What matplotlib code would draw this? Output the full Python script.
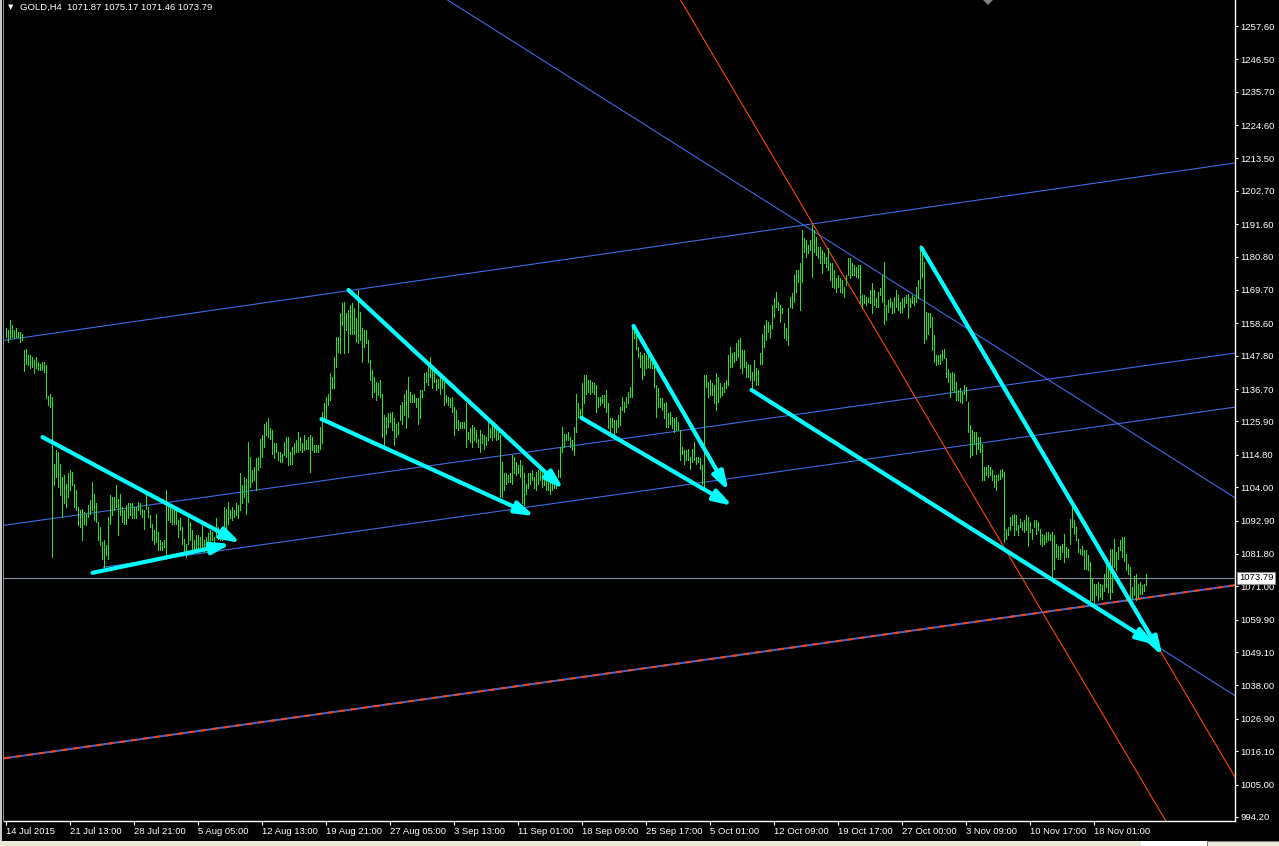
import numpy as np
import matplotlib
matplotlib.use("Agg")
import matplotlib.pyplot as plt
from matplotlib.patches import Rectangle, Polygon
from matplotlib.transforms import blended_transform_factory

# ---------------- data ----------------
symbol_title = "GOLD,H4  1071.87 1075.17 1071.46 1073.79"
last_price = 1073.79

highs = [
    1156.9, 1156.3, 1159.7, 1158.0, 1156.3, 1156.9, 1155.8, 1155.8, 1155.2, 1149.7,
    1150.2, 1148.0, 1148.0, 1147.4, 1146.3, 1147.4, 1145.8, 1145.2, 1145.8, 1145.8,
    1144.7, 1134.3, 1135.2, 1134.1, 1111.9, 1116.3, 1115.8, 1111.9, 1107.4, 1108.0,
    1105.2, 1108.6, 1109.7, 1109.1, 1105.2, 1103.0, 1097.4, 1096.3, 1096.9, 1095.8,
    1095.2, 1098.0, 1099.7, 1105.8, 1101.9, 1098.6, 1092.4, 1090.8, 1085.8, 1086.3,
    1084.7, 1094.1, 1101.3, 1100.8, 1100.8, 1104.7, 1100.2, 1101.9, 1097.4, 1096.3,
    1098.0, 1098.6, 1098.6, 1098.6, 1097.4, 1097.4, 1099.1, 1098.6, 1096.9, 1096.3,
    1101.9, 1097.4, 1094.7, 1091.9, 1089.7, 1095.2, 1089.1, 1086.3, 1085.8, 1086.3,
    1103.0, 1098.6, 1097.4, 1097.4, 1096.3, 1096.3, 1093.0, 1093.6, 1090.8, 1086.9,
    1085.2, 1094.1, 1092.4, 1089.7, 1086.3, 1088.0, 1088.0, 1087.4, 1091.9, 1086.3,
    1087.4, 1088.6, 1089.7, 1089.1, 1087.4, 1093.6, 1090.8, 1089.7, 1089.1, 1097.4,
    1096.9, 1099.1, 1096.3, 1097.4, 1096.3, 1098.6, 1098.0, 1108.6, 1104.7, 1107.4,
    1106.9, 1119.1, 1114.1, 1109.7, 1110.8, 1113.6, 1114.1, 1120.2, 1121.3, 1125.2,
    1125.8, 1126.9, 1123.6, 1123.0, 1118.6, 1118.6, 1115.8, 1115.8, 1115.2, 1119.1,
    1120.8, 1120.8, 1115.8,
    1117.4, 1118.6, 1119.7, 1122.4, 1120.8, 1118.6, 1121.3, 1119.7, 1120.8, 1121.3,
    1120.8, 1118.0, 1118.0, 1118.0, 1124.1, 1129.1, 1131.9, 1134.1, 1135.2, 1141.9,
    1140.8, 1147.4, 1154.1, 1154.1, 1161.9, 1165.2, 1165.8, 1161.9, 1163.0, 1164.7,
    1165.2, 1163.6, 1160.2, 1169.7, 1162.4, 1156.9, 1156.3, 1156.3, 1153.0, 1146.3,
    1143.0, 1140.8, 1139.1, 1138.6, 1139.7, 1135.2, 1128.0, 1127.4, 1128.6, 1128.6,
    1129.1, 1126.9, 1125.2, 1125.8, 1131.3, 1132.4, 1135.2, 1136.3, 1140.8, 1135.8,
    1134.7, 1135.2, 1133.6, 1133.6, 1136.3, 1136.3, 1141.9, 1142.4, 1144.1, 1147.4,
    1143.6, 1143.0, 1140.2, 1140.2, 1141.3, 1140.8, 1139.1, 1134.7, 1134.1, 1133.6,
    1134.1, 1130.8, 1129.7, 1126.3, 1125.8, 1125.8, 1125.8, 1131.9, 1122.4, 1123.6,
    1124.7, 1124.1, 1123.0, 1120.2, 1123.0, 1121.9, 1121.3, 1120.8, 1125.8, 1123.6,
    1125.2, 1125.2, 1123.0, 1122.4, 1121.3, 1112.4, 1108.6, 1108.6, 1108.0, 1108.6,
    1114.7, 1114.1, 1112.4, 1111.3, 1113.0, 1111.3, 1108.6, 1105.2, 1108.6, 1108.6,
    1109.7, 1107.4, 1109.1, 1109.7, 1110.2, 1108.6, 1108.6, 1107.4, 1108.0, 1106.9,
    1106.9, 1107.4, 1107.4, 1109.7, 1117.4, 1124.1, 1121.9, 1121.9, 1122.4, 1120.8,
    1119.7, 1124.1, 1135.2, 1131.9, 1130.2,
    1138.6, 1141.3, 1141.3, 1139.7, 1139.7, 1139.1, 1138.6, 1138.0, 1134.1, 1134.1,
    1134.7, 1134.7, 1136.3, 1131.9, 1126.9, 1126.9, 1126.3, 1126.3, 1128.0, 1130.8,
    1134.1, 1132.4, 1134.1, 1135.8, 1137.4, 1157.4, 1157.4, 1154.7, 1150.8, 1149.1,
    1148.0, 1148.6, 1148.0, 1148.0, 1146.3, 1147.4, 1145.2, 1138.0, 1136.9, 1133.6,
    1133.6, 1131.9, 1132.4, 1128.6, 1129.1, 1127.4, 1126.9, 1127.4, 1125.8, 1123.0,
    1117.4, 1116.3, 1116.3, 1116.9, 1114.1, 1116.9, 1119.1, 1114.1, 1114.1, 1113.6,
    1111.3, 1141.3, 1141.3, 1139.1, 1139.7, 1138.6, 1138.0, 1141.9, 1140.8, 1138.6,
    1137.4, 1138.6, 1139.7, 1148.0, 1150.8, 1148.6, 1149.1, 1151.9, 1153.0, 1153.6,
    1149.7, 1149.7, 1145.8, 1145.2, 1144.7, 1142.4, 1146.3, 1143.6, 1143.0, 1148.6,
    1155.2, 1158.0, 1159.7, 1159.1, 1158.0, 1164.7, 1166.9, 1169.1, 1165.8, 1164.7,
    1163.6, 1158.6, 1156.9, 1163.6, 1167.4, 1168.6, 1174.7, 1176.3, 1176.3, 1178.6,
    1189.7, 1186.9, 1186.3, 1184.7, 1186.3, 1191.3, 1189.7, 1187.4, 1184.1, 1184.1,
    1183.0, 1181.9, 1180.8, 1183.6, 1178.6, 1178.6, 1176.3, 1173.6, 1174.7, 1173.6,
    1173.0, 1170.8, 1174.7, 1180.2, 1180.2, 1178.6, 1178.0, 1177.4, 1178.0, 1178.0,
    1168.0, 1168.0, 1167.4, 1166.9, 1169.7,
    1171.9, 1169.6, 1166.9, 1169.1, 1170.2, 1174.6, 1179.1, 1164.6, 1166.3, 1166.9,
    1165.7, 1167.4, 1169.6, 1168.0, 1165.7, 1166.9, 1167.4, 1168.0, 1168.5, 1166.9,
    1168.0, 1167.4, 1170.7, 1173.0, 1183.5, 1182.4, 1179.1, 1162.4, 1161.9, 1161.9,
    1160.7, 1154.6, 1148.0, 1148.0, 1148.5, 1149.6, 1150.2, 1146.9, 1143.5, 1141.9,
    1142.4, 1141.9, 1139.1, 1136.3, 1136.9, 1135.7, 1138.0, 1137.4, 1132.4, 1124.6,
    1123.0, 1122.4, 1122.4, 1120.7, 1120.7, 1118.5, 1110.7, 1110.7, 1111.3, 1110.7,
    1109.6, 1108.0, 1108.0, 1108.5, 1109.6, 1110.2, 1109.1, 1090.2, 1090.7, 1094.1,
    1094.6, 1095.2, 1094.6, 1091.3, 1093.5, 1092.4, 1093.0, 1094.6, 1094.1, 1092.4,
    1090.2, 1093.0, 1093.0, 1092.4, 1090.2, 1088.5, 1088.0, 1089.1, 1089.1, 1088.5,
    1089.1, 1088.0, 1085.2, 1084.6, 1084.6, 1085.2, 1088.5, 1084.1, 1083.5, 1093.5,
    1098.0, 1093.0, 1090.7, 1086.9, 1083.5, 1084.6, 1083.0, 1083.0, 1081.3, 1079.1,
    1073.5, 1071.9, 1071.9, 1072.4, 1071.9, 1071.3, 1075.2, 1078.5, 1079.1, 1083.5,
    1083.5, 1086.9, 1082.4, 1084.1, 1086.3, 1087.4, 1087.4, 1081.9, 1078.5, 1077.4,
    1070.7, 1074.6, 1075.2, 1071.9, 1072.4, 1071.3, 1071.9, 1075.17,
]

lows = [
    1154.1, 1152.4, 1153.6, 1154.1, 1153.6, 1154.1, 1154.1, 1152.4, 1153.0, 1142.8,
    1145.2, 1144.7, 1143.6, 1144.1, 1141.9, 1143.6, 1143.0, 1143.0, 1143.0, 1142.4,
    1133.6, 1131.3, 1130.8, 1080.8, 1104.7, 1107.4, 1104.1, 1101.3, 1094.1, 1098.6,
    1097.4, 1100.8, 1103.0, 1104.7, 1097.4, 1096.3, 1091.3, 1090.8, 1086.3, 1091.9,
    1091.3, 1094.1, 1095.2, 1096.3, 1093.0, 1092.4, 1086.3, 1084.7, 1080.2, 1077.4,
    1081.3, 1080.2, 1091.9, 1094.7, 1096.3, 1097.4, 1088.0, 1094.7, 1092.4, 1091.9,
    1091.9, 1093.6, 1094.7, 1093.6, 1093.6, 1093.6, 1096.3, 1095.2, 1094.1, 1090.2,
    1096.9, 1094.1, 1090.8, 1086.3, 1085.2, 1085.8, 1083.0, 1083.0, 1083.0, 1084.1,
    1080.2, 1093.0, 1092.4, 1091.9, 1091.9, 1091.9, 1087.4, 1089.7, 1085.2, 1081.9,
    1080.8, 1085.2, 1086.3, 1083.0, 1083.0, 1083.6, 1083.0, 1084.1, 1083.6, 1082.4,
    1083.0, 1085.2, 1085.2, 1086.3, 1084.7, 1087.4, 1086.9, 1086.3, 1086.3, 1088.6,
    1089.7, 1091.9, 1093.6, 1093.0, 1094.1, 1094.7, 1093.6, 1096.3, 1098.6, 1100.8,
    1095.2, 1099.1, 1104.1, 1105.8, 1106.3, 1103.0, 1109.7, 1110.8, 1114.1, 1117.4,
    1121.3, 1120.8, 1120.2, 1115.2, 1113.6, 1115.8, 1113.0, 1112.4, 1112.4, 1114.7,
    1114.1, 1111.3, 1111.9,
    1111.9, 1115.2, 1115.8, 1115.8, 1116.3, 1115.8, 1116.3, 1116.9, 1116.9, 1109.1,
    1116.3, 1115.8, 1115.8, 1115.8, 1116.9, 1118.6, 1126.3, 1126.9, 1131.3, 1133.0,
    1136.9, 1136.9, 1144.1, 1149.1, 1148.6, 1158.0, 1148.6, 1156.3, 1149.1, 1155.2,
    1155.2, 1155.2, 1152.4, 1151.9, 1153.0, 1145.8, 1150.8, 1151.9, 1145.8, 1139.7,
    1134.1, 1135.8, 1133.0, 1134.7, 1134.1, 1120.8, 1117.4, 1121.9, 1124.1, 1125.8,
    1123.0, 1118.0, 1120.8, 1121.9, 1126.3, 1125.2, 1128.0, 1123.6, 1127.4, 1132.4,
    1132.4, 1132.4, 1130.8, 1125.2, 1126.9, 1134.1, 1136.3, 1139.1, 1138.0, 1140.8,
    1136.9, 1139.1, 1136.3, 1136.9, 1135.2, 1136.9, 1131.3, 1132.4, 1131.3, 1130.8,
    1129.1, 1121.3, 1123.6, 1123.0, 1123.6, 1123.6, 1123.6, 1117.4, 1120.2, 1119.1,
    1117.4, 1119.7, 1119.1, 1117.4, 1115.8, 1118.6, 1116.9, 1118.0, 1119.7, 1120.8,
    1119.7, 1120.8, 1119.7, 1120.2, 1100.8, 1100.8, 1103.0, 1105.2, 1105.8, 1105.8,
    1105.2, 1108.6, 1108.0, 1108.6, 1107.4, 1098.6, 1098.0, 1101.9, 1103.6, 1105.2,
    1106.3, 1103.6, 1103.0, 1105.2, 1106.3, 1104.1, 1104.7, 1103.0, 1103.0, 1101.9,
    1103.0, 1103.6, 1103.6, 1107.4, 1107.4, 1115.8, 1117.4, 1119.7, 1119.7, 1117.4,
    1116.3, 1114.7, 1122.4, 1127.4, 1126.9,
    1126.9, 1131.9, 1135.2, 1135.8, 1135.2, 1135.8, 1135.2, 1129.1, 1130.8, 1131.3,
    1131.9, 1130.8, 1129.1, 1123.6, 1121.3, 1124.1, 1121.3, 1122.4, 1124.1, 1124.7,
    1129.7, 1129.1, 1130.8, 1131.9, 1134.1, 1134.1, 1153.6, 1150.2, 1147.4, 1144.1,
    1140.2, 1141.3, 1143.6, 1144.1, 1143.6, 1143.6, 1137.4, 1127.4, 1130.8, 1130.8,
    1129.7, 1126.9, 1124.1, 1124.1, 1125.2, 1123.6, 1122.4, 1123.0, 1123.0, 1113.0,
    1115.2, 1111.9, 1113.0, 1113.0, 1110.2, 1112.4, 1113.0, 1111.9, 1112.4, 1110.2,
    1105.2, 1104.1, 1137.4, 1134.1, 1134.7, 1134.7, 1131.9, 1129.7, 1132.4, 1134.1,
    1134.7, 1135.8, 1136.9, 1138.0, 1144.1, 1144.1, 1145.8, 1146.3, 1147.4, 1143.6,
    1141.9, 1144.1, 1140.8, 1140.8, 1139.7, 1136.3, 1139.7, 1138.0, 1138.0, 1145.2,
    1145.2, 1150.8, 1153.0, 1155.8, 1153.6, 1156.9, 1160.8, 1164.1, 1163.0, 1159.1,
    1161.9, 1153.6, 1153.0, 1151.3, 1164.1, 1163.6, 1165.8, 1169.1, 1172.4, 1163.0,
    1172.4, 1182.4, 1180.8, 1181.9, 1183.0, 1174.1, 1182.4, 1181.3, 1180.2, 1178.6,
    1175.2, 1178.6, 1177.4, 1176.3, 1173.0, 1170.8, 1170.2, 1169.1, 1170.8, 1169.1,
    1168.6, 1167.4, 1171.3, 1174.7, 1173.6, 1174.7, 1174.7, 1174.1, 1173.6, 1165.2,
    1163.6, 1165.2, 1164.7, 1165.8, 1165.2,
    1161.9, 1164.6, 1164.1, 1164.1, 1168.0, 1165.7, 1158.5, 1159.6, 1162.4, 1164.1,
    1161.9, 1162.4, 1164.1, 1163.0, 1161.9, 1162.4, 1164.1, 1165.2, 1160.2, 1164.1,
    1165.2, 1164.6, 1165.7, 1166.9, 1170.2, 1174.1, 1151.9, 1153.5, 1155.2, 1157.4,
    1149.6, 1145.7, 1144.6, 1145.2, 1145.2, 1146.3, 1146.9, 1140.7, 1139.1, 1134.1,
    1136.3, 1135.7, 1133.0, 1133.0, 1132.4, 1131.9, 1135.2, 1133.0, 1122.4, 1114.1,
    1114.6, 1118.5, 1115.2, 1116.9, 1115.7, 1106.3, 1106.3, 1108.0, 1107.4, 1108.0,
    1106.3, 1104.1, 1103.0, 1106.3, 1106.9, 1107.4, 1085.7, 1086.9, 1088.0, 1089.6,
    1091.3, 1088.0, 1089.6, 1088.0, 1090.7, 1089.6, 1089.1, 1089.6, 1084.6, 1089.1,
    1086.9, 1090.7, 1088.5, 1089.6, 1085.2, 1084.6, 1085.2, 1085.7, 1086.3, 1086.3,
    1074.1, 1076.9, 1080.7, 1080.2, 1080.2, 1082.4, 1079.1, 1080.7, 1080.7, 1085.2,
    1090.7, 1088.5, 1086.3, 1082.4, 1081.9, 1081.3, 1076.9, 1076.9, 1076.3, 1065.2,
    1066.3, 1064.6, 1068.0, 1066.3, 1067.4, 1066.9, 1069.6, 1070.7, 1069.1, 1066.9,
    1069.1, 1077.4, 1076.3, 1080.2, 1083.0, 1080.7, 1079.6, 1076.3, 1075.2, 1066.9,
    1066.9, 1068.0, 1066.3, 1067.4, 1068.5, 1068.5, 1069.6, 1071.46,
]

date_labels = ["14 Jul 2015", "21 Jul 13:00", "28 Jul 21:00", "5 Aug 05:00",
               "12 Aug 13:00", "19 Aug 21:00", "27 Aug 05:00", "3 Sep 13:00",
               "11 Sep 01:00", "18 Sep 09:00", "25 Sep 17:00", "5 Oct 01:00",
               "12 Oct 09:00", "19 Oct 17:00", "27 Oct 00:00", "3 Nov 09:00",
               "10 Nov 17:00", "18 Nov 01:00"]
bars_per_label = 32

price_ticks = [1257.60, 1246.50, 1235.70, 1224.60, 1213.50, 1202.70, 1191.60,
               1180.80, 1169.70, 1158.60, 1147.80, 1136.70, 1125.90, 1114.80,
               1104.00, 1092.90, 1081.80, 1071.00, 1059.90, 1049.10, 1038.00,
               1026.90, 1016.10, 1005.00, 994.20]

# trend objects as (bar index, price) anchor pairs
blue_infinite = [((0, 1153.0), (615, 1212.0)),      # upper channel
                 ((0, 1091.4), (615, 1148.7)),      # middle channel
                 ((221, 1266.26), (615, 1100.4))]   # descending line through the top
blue_rays = [((49, 1077.4), (615, 1130.7)),         # lower channel ray
             ((373, 1136.4), (615, 1034.5))]        # descending parallel
orange_infinite = [((337.5, 1266.26), (580.5, 992.5))]
orange_rays = [((457.5, 1184.5), (615, 1007.2))]
dashed_line = ((0, 1013.8), (615, 1071.4))

arrows = [((18.5, 1120.7), (117.5, 1085.4)),
          ((43.5, 1075.5), (112.5, 1085.1)),
          ((171.5, 1169.7), (279.0, 1103.4)),
          ((158.0, 1126.7), (264.5, 1094.4)),
          ((314.0, 1157.7), (361.5, 1102.8)),
          ((288.0, 1127.1), (363.5, 1097.8)),
          ((373.0, 1136.4), (575.0, 1051.5)),
          ((458.0, 1183.7), (578.5, 1047.8))]

# ---------------- figure ----------------
W, H = 1279, 846
FONT = "Liberation Sans"
FS = 6.8
plt.rcParams["font.family"] = [FONT, "DejaVu Sans"]

fig = plt.figure(figsize=(W / 100, H / 100), dpi=100, facecolor="black")
ax = fig.add_axes([4 / W, 25 / H, 1231 / W, 821 / H])
ax.set_facecolor("black")
ax.set_xlim(-0.75, 614.75)
ax.set_ylim(992.86, 1266.26)

BLUE = "#4169e1"
ORANGE = "#ff4500"
GREEN = "#1ee61e"
CYAN = "#00ffff"

idx = np.arange(len(highs))
ax.vlines(idx, lows, highs, colors=GREEN, linewidth=0.72, antialiased=False, zorder=3)

for p1, p2 in blue_infinite:
    ax.axline(p1, p2, color=BLUE, lw=0.8, zorder=2)
for p1, p2 in blue_rays:
    ax.plot([p1[0], p2[0]], [p1[1], p2[1]], color=BLUE, lw=0.8, zorder=2)
for p1, p2 in orange_infinite:
    ax.axline(p1, p2, color=ORANGE, lw=0.8, zorder=2)
for p1, p2 in orange_rays:
    ax.plot([p1[0], p2[0]], [p1[1], p2[1]], color=ORANGE, lw=0.8, zorder=2)

ax.axline(dashed_line[0], dashed_line[1], color=BLUE, lw=1.4, zorder=2)
ax.axline(dashed_line[0], dashed_line[1], color=ORANGE, lw=1.4,
          linestyle=(0, (3, 3)), zorder=2)

ax.axhline(last_price, color="#8090a0", lw=0.8, zorder=2)

for start, end in arrows:
    ax.annotate("", xy=end, xytext=start,
                arrowprops=dict(arrowstyle="-|>,head_length=1.1,head_width=0.35",
                                mutation_scale=10, color=CYAN, lw=3,
                                shrinkA=0, shrinkB=0),
                zorder=5)

# axes / ticks
for side in ["top", "left"]:
    ax.spines[side].set_visible(False)
for side in ["bottom", "right"]:
    ax.spines[side].set_color("white")
    ax.spines[side].set_linewidth(1.0)

ax.yaxis.tick_right()
ax.set_yticks(price_ticks)
ax.set_yticklabels([f"{v:.2f}" for v in price_ticks])
ax.tick_params(axis="y", colors="white", labelcolor="white", length=2.2, width=0.8,
               pad=1.5, labelsize=FS)

xt = [k * bars_per_label for k in range(len(date_labels))]
ax.set_xticks(xt)
ax.set_xticklabels(date_labels)
ax.tick_params(axis="x", colors="white", labelcolor="white", length=3, width=0.8,
               pad=1.5, labelsize=FS)
for lab in ax.get_xticklabels():
    lab.set_horizontalalignment("left")

# current price box
trans = blended_transform_factory(ax.transAxes, ax.transData)
ax.text(1.0 + 4 / 1231, last_price, f"{last_price:.2f}", transform=trans,
        ha="left", va="center", fontsize=FS, color="black", zorder=10,
        bbox=dict(boxstyle="square,pad=0.2", fc="white", ec="#909090", lw=0.6),
        clip_on=False)

# title
fig.text(10.5 / W, 1 - 7.5 / H, "\u25bc", fontsize=5, color="white",
         ha="center", va="center", family="DejaVu Sans")
fig.text(20 / W, 1 - 7.5 / H, symbol_title, fontsize=FS, color="white",
         ha="left", va="center")

# window chrome
fig.add_artist(Rectangle((0, 5 / H), 2 / W, 841 / H, transform=fig.transFigure,
                         fc="#c8c8c8", ec="none"))
fig.add_artist(Rectangle((3 / W, 25 / H), 1 / W, 821 / H, transform=fig.transFigure,
                         fc="#909090", ec="none"))
fig.add_artist(Rectangle((0, 0), 1141 / W, 5 / H, transform=fig.transFigure,
                         fc="#ece9d8", ec="none"))
fig.add_artist(Rectangle((1141 / W, 0), 66 / W, 5 / H, transform=fig.transFigure,
                         fc="white", ec="none"))
fig.add_artist(Rectangle((1207 / W, 0), 72 / W, 5 / H, transform=fig.transFigure,
                         fc="#ece9d8", ec="#808080", lw=0.6))
fig.add_artist(Polygon([(983 / W, 1), (993 / W, 1), (988 / W, 1 - 5 / H)],
                       closed=True, transform=fig.transFigure, fc="#808080", ec="none"))

fig.savefig("out.png", dpi=100, facecolor="black")
